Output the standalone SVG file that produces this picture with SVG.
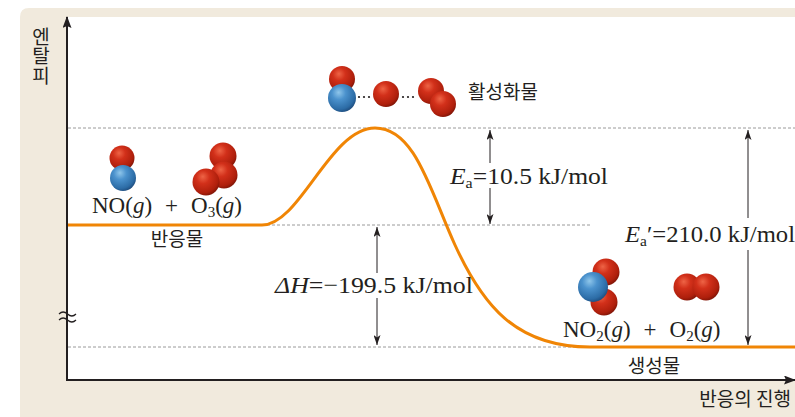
<svg xmlns="http://www.w3.org/2000/svg" width="795" height="417" viewBox="0 0 795 417">
  <style>
    .kr { font-family: "Noto Sans CJK KR", "Noto Sans", sans-serif; font-size: 19px; fill: #231f20; }
    .sp { font-family: "Liberation Serif", serif; font-size: 23px; fill: #231f20; }
    .en { font-family: "Liberation Serif", serif; font-size: 24px; fill: #231f20; }
    .it { font-style: italic; }
    .guide { stroke: #9a9a9a; stroke-width: 1; stroke-dasharray: 3 2; fill: none; }
    .axis { stroke: #231f20; stroke-width: 2; fill: none; }
    .dim { stroke: #231f20; stroke-width: 1; fill: none; }
    .curve { stroke: #f08505; stroke-width: 3; fill: none; }
    .O { fill: url(#gRed); }
    .N { fill: url(#gBlue); }
  </style>
  <defs>
    <radialGradient id="gRed" cx="0.4" cy="0.35" r="0.7" fx="0.38" fy="0.3">
      <stop offset="0" stop-color="#ee6446"/>
      <stop offset="0.35" stop-color="#d2301a"/>
      <stop offset="0.8" stop-color="#ae1f0c"/>
      <stop offset="1" stop-color="#761306"/>
    </radialGradient>
    <radialGradient id="gBlue" cx="0.4" cy="0.35" r="0.7" fx="0.38" fy="0.3">
      <stop offset="0" stop-color="#8fc6ea"/>
      <stop offset="0.35" stop-color="#4b92cd"/>
      <stop offset="0.8" stop-color="#2c6ca6"/>
      <stop offset="1" stop-color="#1c4777"/>
    </radialGradient>
    <marker id="ah" viewBox="0 0 10 7" refX="10" refY="3.5" markerWidth="10" markerHeight="7" markerUnits="userSpaceOnUse" orient="auto">
      <path d="M0,0 L10,3.5 L0,7 L2.5,3.5 z" fill="#231f20"/>
    </marker>
    <marker id="axh" viewBox="0 0 12 9" refX="11" refY="4.5" markerWidth="12" markerHeight="9" markerUnits="userSpaceOnUse" orient="auto">
      <path d="M0,0 L12,4.5 L0,9 L2,4.5 z" fill="#231f20"/>
    </marker>
  </defs>

  <!-- panel background and plot area -->
  <path d="M20,417 L20,17 Q20,8 29,8 L795,8 L795,417 z" fill="#f1eadd"/>
  <rect x="67" y="17" width="728" height="363" fill="#ffffff"/>

  <!-- guide lines -->
  <g id="guides">
    <line class="guide" x1="68" y1="128" x2="795" y2="128"/>
    <line class="guide" x1="262" y1="225" x2="592" y2="225"/>
    <line class="guide" x1="68" y1="347" x2="590" y2="347"/>
  </g>

  <!-- energy profile -->
  <path id="profile" class="curve" d="M67,225 L262,225 C300,225 330,128 375,128 C415,128 430,190 455,245 C482,304 515,347 590,347 L795,347"/>

  <!-- axes -->
  <g id="axes">
    <line class="axis" x1="67" y1="381" x2="67" y2="17" marker-end="url(#axh)"/>
    <line class="axis" x1="66" y1="380" x2="795" y2="380" marker-end="url(#axh)"/>
    <!-- axis break -->
    <path d="M59,314 q4,-4 8.5,0 t8.5,0 M59,320 q4,-4 8.5,0 t8.5,0" stroke="#231f20" stroke-width="1.2" fill="none"/>
  </g>

  <!-- dimension arrows -->
  <g id="connectors">
    <line class="dim" x1="490" y1="163" x2="490" y2="130" marker-end="url(#ah)"/>
    <line class="dim" x1="490" y1="188" x2="490" y2="224" marker-end="url(#ah)"/>
    <line class="dim" x1="377" y1="273" x2="377" y2="227" marker-end="url(#ah)"/>
    <line class="dim" x1="377" y1="298" x2="377" y2="345" marker-end="url(#ah)"/>
    <line class="dim" x1="748" y1="218" x2="748" y2="130" marker-end="url(#ah)"/>
    <line class="dim" x1="748" y1="250" x2="748" y2="345" marker-end="url(#ah)"/>
  </g>

  <!-- axis titles -->
  <text id="y-title" class="kr" x="41" y="27" style="writing-mode: vertical-rl; letter-spacing: 0.5px" text-anchor="start">엔탈피</text>
  <text id="x-title" class="kr" x="791" y="406" text-anchor="end">반응의 진행</text>

  <!-- reactants -->
  <g id="reactants">
    <circle class="O" cx="122" cy="158" r="12.5"/>
    <circle class="N" cx="123" cy="178" r="13"/>
    <circle class="O" cx="223" cy="156" r="13.5"/>
    <circle class="O" cx="224" cy="175" r="13.5"/>
    <circle class="O" cx="206" cy="182" r="13.5"/>
    <text class="sp" x="92" y="213">NO(<tspan class="it">g</tspan>)<tspan dx="13">+</tspan><tspan dx="13">O</tspan><tspan font-size="15" dy="4">3</tspan><tspan dy="-4">(</tspan><tspan class="it">g</tspan>)</text>
    <text class="kr" x="177" y="246" text-anchor="middle">반응물</text>
  </g>

  <!-- activated complex -->
  <g id="complex">
    <circle class="O" cx="342" cy="79" r="13"/>
    <circle class="N" cx="342" cy="98" r="14"/>
    <circle cx="359" cy="97" r="1.1" fill="#231f20"/>
    <circle cx="364" cy="97" r="1.1" fill="#231f20"/>
    <circle cx="369" cy="97" r="1.1" fill="#231f20"/>
    <circle class="O" cx="386" cy="94" r="13"/>
    <circle cx="403" cy="97" r="1.1" fill="#231f20"/>
    <circle cx="408" cy="97" r="1.1" fill="#231f20"/>
    <circle cx="413" cy="97" r="1.1" fill="#231f20"/>
    <circle class="O" cx="431" cy="91" r="13"/>
    <circle class="O" cx="443" cy="104" r="13"/>
    <text class="kr" x="503" y="99" text-anchor="middle">활성화물</text>
  </g>

  <!-- products -->
  <g id="products">
    <circle class="O" cx="606" cy="272" r="13.5"/>
    <circle class="O" cx="604" cy="302" r="13.5"/>
    <circle class="N" cx="593" cy="287" r="15"/>
    <circle class="O" cx="687" cy="287" r="13.5"/>
    <circle class="O" cx="706" cy="287" r="13.5"/>
    <text class="sp" x="563" y="337">NO<tspan font-size="15" dy="4">2</tspan><tspan dy="-4">(</tspan><tspan class="it">g</tspan>)<tspan dx="13">+</tspan><tspan dx="13">O</tspan><tspan font-size="15" dy="4">2</tspan><tspan dy="-4">(</tspan><tspan class="it">g</tspan>)</text>
    <text class="kr" x="654" y="373" text-anchor="middle">생성물</text>
  </g>

  <!-- energy labels -->
  <g id="labels">
    <text class="en" x="450" y="184" textLength="158" lengthAdjust="spacingAndGlyphs"><tspan class="it">E</tspan><tspan font-size="15" dy="4">a</tspan><tspan dy="-4">=10.5 kJ/mol</tspan></text>
    <text class="en" x="275" y="293" textLength="198" lengthAdjust="spacingAndGlyphs"><tspan class="it">ΔH</tspan>=−199.5 kJ/mol</text>
    <text class="en" x="625" y="242" textLength="170" lengthAdjust="spacingAndGlyphs"><tspan class="it">E</tspan><tspan font-size="15" dy="4">a</tspan><tspan dy="-4">′=210.0 kJ/mol</tspan></text>
  </g>
</svg>
